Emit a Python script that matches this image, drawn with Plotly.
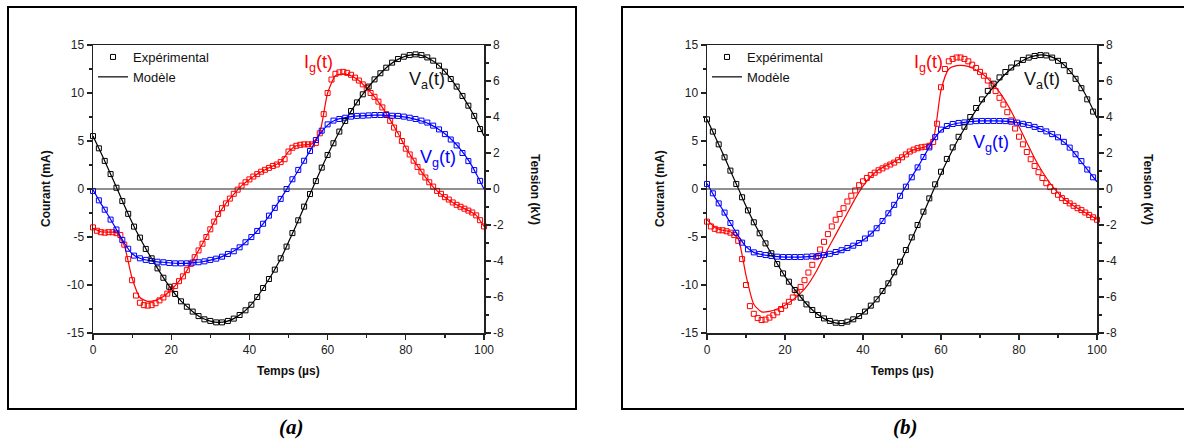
import plotly.graph_objects as go

# ---------------- data ----------------
# time grids (µs)
T_EXP_V = [0, 1.5, 3, 4.5, 6, 7.5, 9, 10.5, 12, 13.5, 15, 16.5, 18, 19.5, 21, 22.5, 24, 25.5, 27, 28.5,
           30, 31.5, 33, 34.5, 36, 37.5, 39, 40.5, 42, 43.5, 45, 46.5, 48, 49.5, 51, 52.5, 54, 55.5, 57, 58.5,
           60, 61.5, 63, 64.5, 66, 67.5, 69, 70.5, 72, 73.5, 75, 76.5, 78, 79.5, 81, 82.5, 84, 85.5, 87, 88.5,
           90, 91.5, 93, 94.5, 96, 97.5, 99]
T_EXP_I = [0, 1, 2, 3, 4, 5, 6, 7, 8, 9, 10, 11, 12, 13, 14, 15, 16, 17, 18, 19, 20, 21, 22, 23, 24, 25,
           26, 27, 28, 29, 30, 31, 32, 33, 34, 35, 36, 37, 38, 39, 40, 41, 42, 43, 44, 45, 46, 47, 48, 49, 50,
           51, 52, 53, 54, 55, 56, 57, 58, 59, 60, 61, 62, 63, 64, 65, 66, 67, 68, 69, 70, 71, 72, 73, 74, 75,
           76, 77, 78, 79, 80, 81, 82, 83, 84, 85, 86, 87, 88, 89, 90, 91, 92, 93, 94, 95, 96, 97, 98, 99, 100]
T_MOD = [0, 2, 4, 6, 8, 10, 12, 14, 16, 18, 20, 22, 24, 26, 28, 30, 32, 34, 36, 38, 40, 42, 44, 46, 48, 50,
         52, 54, 56, 58, 60, 62, 64, 66, 68, 70, 72, 74, 76, 78, 80, 82, 84, 86, 88, 90, 92, 94, 96, 98, 100]

# ---- panel (a) ----
VA_EXP_A = [2.94, 2.26, 1.56, 0.83, 0.07, -0.67, -1.38, -2.09, -2.70, -3.33,
            -3.85, -4.41, -4.93, -5.43, -5.83, -6.24, -6.54, -6.81, -7.06, -7.24,
            -7.33, -7.41, -7.41, -7.33, -7.20, -7.00, -6.74, -6.43, -6.00, -5.50,
            -5.00, -4.48, -3.85, -3.20, -2.45, -1.74, -0.98, -0.28, 0.44, 1.19,
            1.89, 2.54, 3.19, 3.78, 4.33, 4.81, 5.26, 5.69, 6.09, 6.43,
            6.74, 7.02, 7.22, 7.35, 7.44, 7.48, 7.44, 7.31, 7.13, 6.85,
            6.52, 6.11, 5.69, 5.17, 4.63, 4.06, 3.33]
VA_MOD_A = [2.94, 2.03, 1.07, 0.10, -0.90, -1.86, -2.72, -3.50, -4.23, -4.92,
            -5.55, -6.10, -6.52, -6.90, -7.18, -7.34, -7.41, -7.37, -7.20, -6.92,
            -6.53, -6.00, -5.35, -4.65, -3.88, -2.95, -2.00, -1.00, -0.04, 0.95,
            1.89, 2.76, 3.58, 4.33, 4.97, 5.55, 6.07, 6.53, 6.92, 7.20,
            7.38, 7.46, 7.42, 7.24, 6.95, 6.52, 5.98, 5.34, 4.63, 3.85, 2.95]
VG_EXP_A = [-0.11, -0.63, -1.15, -1.70, -2.25, -2.83, -3.32, -3.70, -3.85, -3.94,
            -4.00, -4.04, -4.07, -4.11, -4.13, -4.13, -4.13, -4.09, -4.07, -4.02,
            -3.94, -3.87, -3.76, -3.61, -3.46, -3.24, -2.96, -2.67, -2.33, -1.93,
            -1.48, -1.05, -0.55, 0.00, 0.54, 1.06, 1.57, 2.11, 2.72, 3.24,
            3.59, 3.80, 3.89, 3.96, 4.02, 4.06, 4.07, 4.09, 4.11, 4.11,
            4.11, 4.07, 4.06, 4.02, 3.96, 3.89, 3.80, 3.69, 3.52, 3.31,
            3.05, 2.75, 2.42, 2.00, 1.55, 1.05, 0.45]
VG_MOD_A = [-0.05, -0.80, -1.50, -2.25, -3.00, -3.60, -3.85, -3.96, -4.03, -4.07,
            -4.11, -4.13, -4.13, -4.09, -4.04, -3.95, -3.84, -3.66, -3.45, -3.15,
            -2.77, -2.33, -1.80, -1.20, -0.55, 0.15, 0.85, 1.57, 2.30, 3.05,
            3.55, 3.83, 3.94, 4.02, 4.06, 4.08, 4.10, 4.10, 4.08, 4.05,
            3.99, 3.90, 3.78, 3.62, 3.38, 3.07, 2.68, 2.20, 1.60, 0.85, 0.00]
IG_EXP_A = [-4.0, -4.35, -4.5, -4.55, -4.5, -4.5, -4.6, -4.8, -5.8, -7.3,
            -9.5, -11.1, -11.85, -12.1, -12.15, -12.1, -11.9, -11.6, -11.3, -10.9,
            -10.45, -10.1, -9.6, -9.1, -8.45, -7.8, -7.1, -6.4, -5.7, -5.0,
            -4.2, -3.4, -2.6, -2.0, -1.5, -1.0, -0.5, -0.07, 0.35, 0.7,
            1.0, 1.3, 1.55, 1.8, 2.0, 2.2, 2.4, 2.55, 2.8, 3.1,
            3.9, 4.3, 4.5, 4.6, 4.65, 4.65, 4.65, 4.8, 5.8, 7.8,
            10.0, 11.4, 12.0, 12.15, 12.2, 12.1, 11.9, 11.6, 11.3, 10.9,
            10.5, 10.0, 9.6, 9.1, 8.5, 7.8, 7.1, 6.4, 5.7, 5.0,
            4.2, 3.6, 2.95, 2.3, 1.8, 1.2, 0.7, 0.25, -0.2, -0.5,
            -0.85, -1.1, -1.4, -1.65, -1.85, -2.05, -2.25, -2.45, -2.75, -3.25, -3.9]
IG_MOD_A = [-4.1, -4.45, -4.5, -4.55, -5.9, -9.3, -11.3, -11.7, -11.6, -11.2,
            -10.5, -9.6, -8.5, -7.1, -5.7, -4.2, -2.7, -1.5, -0.55, 0.35,
            1.0, 1.55, 2.0, 2.4, 2.8, 3.9, 4.5, 4.6, 4.7, 5.9,
            10.0, 11.8, 12.0, 11.8, 11.3, 10.5, 9.6, 8.5, 7.2, 5.8,
            4.3, 3.0, 1.8, 0.7, -0.2, -0.85, -1.4, -1.85, -2.25, -2.75, -3.9]

# ---- panel (b) ----
VA_EXP_B = [3.87, 3.19, 2.48, 1.76, 1.02, 0.28, -0.46, -1.19, -1.85, -2.46,
            -3.02, -3.57, -4.17, -4.69, -5.15, -5.61, -6.04, -6.41, -6.72, -7.00,
            -7.19, -7.33, -7.43, -7.45, -7.37, -7.24, -7.06, -6.81, -6.48, -6.13,
            -5.67, -5.24, -4.63, -4.04, -3.39, -2.69, -2.00, -1.26, -0.52, 0.26,
            0.96, 1.67, 2.31, 2.90, 3.46, 4.00, 4.50, 4.98, 5.45, 5.85,
            6.20, 6.50, 6.75, 6.98, 7.17, 7.30, 7.39, 7.44, 7.42, 7.30,
            7.12, 6.88, 6.55, 6.12, 5.60, 4.98, 4.30]
VA_MOD_B = [3.87, 2.95, 2.00, 1.02, 0.04, -0.95, -1.85, -2.65, -3.40, -4.15,
            -4.85, -5.45, -6.00, -6.50, -6.90, -7.20, -7.38, -7.47, -7.42, -7.20,
            -6.90, -6.50, -6.00, -5.40, -4.70, -3.90, -3.00, -2.05, -1.10, -0.10,
            0.85, 1.75, 2.60, 3.35, 4.05, 4.70, 5.28, 5.80, 6.28, 6.68,
            7.00, 7.25, 7.40, 7.45, 7.37, 7.15, 6.80, 6.30, 5.65, 4.85, 3.95]
VG_EXP_B = [0.28, -0.24, -0.80, -1.31, -1.89, -2.43, -2.98, -3.35, -3.52, -3.61,
            -3.67, -3.72, -3.76, -3.78, -3.78, -3.78, -3.78, -3.76, -3.74, -3.72,
            -3.67, -3.60, -3.50, -3.40, -3.28, -3.15, -3.00, -2.75, -2.48, -2.18,
            -1.78, -1.35, -0.88, -0.38, 0.13, 0.65, 1.20, 1.78, 2.31, 2.88,
            3.30, 3.50, 3.61, 3.67, 3.70, 3.74, 3.77, 3.78, 3.78, 3.78,
            3.78, 3.77, 3.74, 3.69, 3.62, 3.55, 3.45, 3.33, 3.20, 3.05,
            2.87, 2.62, 2.30, 1.93, 1.55, 1.08, 0.65]
VG_MOD_B = [0.30, -0.45, -1.15, -1.89, -2.60, -3.20, -3.52, -3.64, -3.71, -3.76,
            -3.78, -3.78, -3.78, -3.76, -3.72, -3.66, -3.57, -3.45, -3.30, -3.10,
            -2.85, -2.50, -2.05, -1.50, -0.90, -0.20, 0.50, 1.20, 1.95, 2.70,
            3.25, 3.52, 3.64, 3.70, 3.75, 3.78, 3.78, 3.78, 3.77, 3.74,
            3.67, 3.57, 3.45, 3.29, 3.10, 2.85, 2.52, 2.05, 1.50, 0.95, 0.40]
IG_EXP_B = [-3.4, -3.9, -4.15, -4.3, -4.3, -4.4, -4.55, -4.8, -5.4, -7.3,
            -10.0, -12.2, -13.0, -13.45, -13.65, -13.6, -13.4, -13.15, -12.85, -12.5,
            -12.15, -11.75, -11.3, -10.8, -10.2, -9.5, -8.7, -7.9, -7.1, -6.3,
            -5.5, -4.7, -3.9, -3.2, -2.6, -2.0, -1.3, -0.7, -0.15, 0.4,
            0.8, 1.15, 1.45, 1.7, 1.95, 2.15, 2.35, 2.55, 2.75, 3.0,
            3.3, 3.6, 3.9, 4.1, 4.25, 4.35, 4.4, 4.5, 4.9, 6.8,
            10.6, 12.5, 13.3, 13.55, 13.7, 13.7, 13.55, 13.3, 12.95, 12.6,
            12.2, 11.8, 11.3, 10.8, 10.2, 9.5, 8.8, 8.0, 7.15, 6.3,
            5.45, 4.65, 3.85, 3.1, 2.4, 1.75, 1.15, 0.6, 0.2, -0.2,
            -0.6, -0.95, -1.25, -1.5, -1.75, -2.0, -2.2, -2.45, -2.7, -2.95, -3.2]
IG_MOD_B = [-3.2, -4.0, -4.3, -4.45, -5.2, -9.0, -12.0, -12.8, -12.75, -12.5,
            -12.1, -11.55, -10.85, -9.9, -8.6, -7.0, -5.5, -4.0, -2.5, -1.0,
            0.3, 1.3, 2.0, 2.45, 2.85, 3.3, 3.9, 4.2, 4.4, 5.2,
            10.3, 12.5, 12.85, 12.85, 12.6, 12.15, 11.5, 10.6, 9.5, 8.1,
            6.5, 4.85, 3.2, 1.8, 0.6, -0.4, -1.2, -1.75, -2.25, -2.7, -3.15]

# tick labels
X_TICKS = [0, 20, 40, 60, 80, 100]
X_TICKTEXT = ["0", "20", "40", "60", "80", "100"]
I_TICKS = [-15, -10, -5, 0, 5, 10, 15]
I_TICKTEXT = ["-15", "-10", "-5", "0", "5", "10", "15"]
V_TICKS = [-8, -6, -4, -2, 0, 2, 4, 6, 8]
V_TICKTEXT = ["-8", "-6", "-4", "-2", "0", "2", "4", "6", "8"]

# ---------------- layout helpers ----------------
W, H = 1184, 441
FONT = "Liberation Sans, Arial, sans-serif"
RED, BLUE, BLACK = "#ff0000", "#0000ff", "#000000"


def px(x):
    return x / W


def py(y):
    return 1 - y / H


fig = go.Figure()

panels = [
    dict(xa="x", ya="y", ya2="y2", leg="legend",
         va_e=VA_EXP_A, va_m=VA_MOD_A, vg_e=VG_EXP_A, vg_m=VG_MOD_A, ig_e=IG_EXP_A, ig_m=IG_MOD_A),
    dict(xa="x2", ya="y3", ya2="y4", leg="legend2",
         va_e=VA_EXP_B, va_m=VA_MOD_B, vg_e=VG_EXP_B, vg_m=VG_MOD_B, ig_e=IG_EXP_B, ig_m=IG_MOD_B),
]

for p in panels:
    # model lines
    fig.add_trace(go.Scatter(x=T_MOD, y=p["ig_m"], mode="lines", xaxis=p["xa"], yaxis=p["ya"],
                             line=dict(color=RED, width=1.2, shape="spline", smoothing=0.6),
                             showlegend=False, hoverinfo="skip"))
    fig.add_trace(go.Scatter(x=T_MOD, y=p["vg_m"], mode="lines", xaxis=p["xa"], yaxis=p["ya2"],
                             line=dict(color=BLUE, width=1.2, shape="spline", smoothing=0.6),
                             showlegend=False, hoverinfo="skip"))
    fig.add_trace(go.Scatter(x=T_MOD, y=p["va_m"], mode="lines", xaxis=p["xa"], yaxis=p["ya2"],
                             line=dict(color=BLACK, width=1.2, shape="spline", smoothing=0.6),
                             name="Modèle", legend=p["leg"], showlegend=True, legendrank=2))
    # experimental markers
    fig.add_trace(go.Scatter(x=T_EXP_I, y=p["ig_e"], mode="markers", xaxis=p["xa"], yaxis=p["ya"],
                             marker=dict(symbol="square-open", size=5, color=RED, line=dict(width=1)),
                             cliponaxis=False, showlegend=False))
    fig.add_trace(go.Scatter(x=T_EXP_V, y=p["vg_e"], mode="markers", xaxis=p["xa"], yaxis=p["ya2"],
                             marker=dict(symbol="square-open", size=5, color=BLUE, line=dict(width=1)),
                             cliponaxis=False, showlegend=False))
    fig.add_trace(go.Scatter(x=T_EXP_V, y=p["va_e"], mode="markers", xaxis=p["xa"], yaxis=p["ya2"],
                             marker=dict(symbol="square-open", size=5, color=BLACK, line=dict(width=1)),
                             cliponaxis=False, name="Expérimental", legend=p["leg"], showlegend=True,
                             legendrank=1))

axis_common = dict(showline=True, linecolor="#222", linewidth=1.5, ticks="outside", ticklen=5,
                   tickwidth=1.2, tickcolor="#222", showgrid=False, zeroline=False,
                   tickfont=dict(family=FONT, size=12, color="#222"), tickmode="array")

xdom_a = [px(93), px(484)]
xdom_b = [px(707), px(1097)]
ydom = [py(333), py(45)]

for xname, yname, y2name, xdom, ynum, y2num, xnum in [
        ("xaxis", "yaxis", "yaxis2", xdom_a, "y", "y2", "x"),
        ("xaxis2", "yaxis3", "yaxis4", xdom_b, "y3", "y4", "x2")]:
    fig.update_layout(**{
        xname: dict(axis_common, domain=xdom, range=[0, 100], anchor=ynum, mirror=True,
                    tickvals=X_TICKS, ticktext=X_TICKTEXT,
                    minor=dict(ticks="outside", ticklen=3, tickwidth=1.2, tickcolor="#222",
                               tickmode="linear", tick0=0, dtick=10)),
        yname: dict(axis_common, domain=ydom, range=[-15, 15], anchor=xnum,
                    tickvals=I_TICKS, ticktext=I_TICKTEXT,
                    minor=dict(ticks="outside", ticklen=3, tickwidth=1.2, tickcolor="#222",
                               tickmode="linear", tick0=0, dtick=2.5)),
        y2name: dict(axis_common, range=[-8, 8], anchor=xnum, overlaying=ynum, side="right",
                     tickvals=V_TICKS, ticktext=V_TICKTEXT,
                     minor=dict(ticks="outside", ticklen=3, tickwidth=1.2, tickcolor="#222",
                                tickmode="linear", tick0=0, dtick=1)),
    })

legend_style = dict(xanchor="left", yanchor="top", bgcolor="rgba(0,0,0,0)", borderwidth=0,
                    font=dict(family=FONT, size=13, color="#111"), tracegroupgap=0,
                    itemclick=False, itemdoubleclick=False)
fig.update_layout(
    legend=dict(legend_style, x=px(93), y=py(42)),
    legend2=dict(legend_style, x=px(707), y=py(42)),
)

shapes = [
    dict(type="rect", xref="paper", yref="paper", x0=px(8), x1=px(576), y0=py(409), y1=py(7),
         line=dict(color="black", width=2), layer="below"),
    dict(type="rect", xref="paper", yref="paper", x0=px(622), x1=px(1195), y0=py(409), y1=py(7),
         line=dict(color="black", width=2), layer="below"),
    dict(type="line", xref="x domain", yref="y", x0=0, x1=1, y0=0, y1=0,
         line=dict(color="#222", width=1)),
    dict(type="line", xref="x2 domain", yref="y3", x0=0, x1=1, y0=0, y1=0,
         line=dict(color="#222", width=1)),
]

ann = []


def label(text, x, y, size=12, angle=0, color="#111", family=FONT, xanchor="center", yanchor="middle"):
    ann.append(dict(text=text, x=px(x), y=py(y), xref="paper", yref="paper", showarrow=False,
                    textangle=angle, xanchor=xanchor, yanchor=yanchor,
                    font=dict(family=family, size=size, color=color)))


for dx in (0, 614):
    label("<b>Courant (mA)</b>", 46 + dx, 189, angle=-90)
    label("<b>Temps (µs)</b>", 288 + dx, 371)
label("<b>Tension (kV)</b>", 535, 189, angle=90)
label("<b>Tension (kV)</b>", 1148, 189, angle=90)
label("<b><i>(a)</i></b>", 291, 427, size=21, family="Liberation Serif, Times New Roman, serif", color="#000")
label("<b><i>(b)</i></b>", 905, 427, size=21, family="Liberation Serif, Times New Roman, serif", color="#000")

# curve names
label("I<sub>g</sub>(t)", 302, 64, size=18, color=RED, xanchor="left")
label("V<sub>a</sub>(t)", 407, 80, size=18, color="#111", xanchor="left")
label("V<sub>g</sub>(t)", 418, 158, size=18, color=BLUE, xanchor="left")
label("I<sub>g</sub>(t)", 912, 64, size=18, color=RED, xanchor="left")
label("V<sub>a</sub>(t)", 1022, 80, size=18, color="#111", xanchor="left")
label("V<sub>g</sub>(t)", 971, 143, size=18, color=BLUE, xanchor="left")

# the figure fills the page viewport exactly (page is 1184x441); everything is placed in
# paper fractions of that size
fig.update_layout(
    autosize=True,
    margin=dict(l=0, r=0, t=0, b=0, pad=0, autoexpand=False),
    paper_bgcolor="white", plot_bgcolor="rgba(0,0,0,0)",
    shapes=shapes, annotations=ann,
    font=dict(family=FONT),
)

fig.write_html("out.html",
               default_width="100vw", default_height="100vh",
               config={"displayModeBar": False, "staticPlot": True, "responsive": True},
               post_script="document.documentElement.style.overflow='hidden';"
                           "document.body.style.margin='0';document.body.style.padding='0';"
                           "document.body.style.overflow='hidden';")
